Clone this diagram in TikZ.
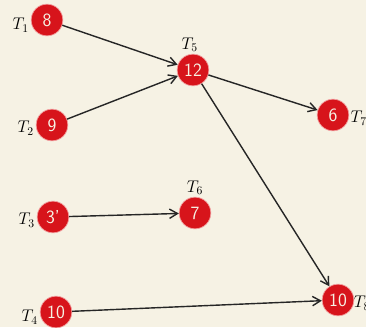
\documentclass[tikz,border=0pt]{standalone}
\usepackage{amsmath}
\usepackage{tikz}
\usepackage{xcolor}
\usetikzlibrary{arrows.meta, positioning}

\definecolor{paper}{HTML}{F6F2E4}
\definecolor{taskred}{HTML}{D7141B}
\definecolor{rim}{HTML}{F2A0A0}

\tikzset{
  task/.style={circle, fill=taskred, draw=rim, line width=0.6pt, minimum size=0.95cm, inner sep=0pt,
    text=paper, font=\sffamily\fontsize{16}{18}\selectfont},
  tname/.style={inner sep=1pt, font=\Large},
  dep/.style={-{Straight Barb[length=2.4mm, width=2.8mm, line width=1.2pt]}, line width=1.2pt, black!85}
}

\begin{document}
\begin{tikzpicture}[x=0.03cm, y=-0.03cm]
\fill[paper] (0,0) rectangle (366,327);
\useasboundingbox (0,0) rectangle (366,327);
\clip (0,0) rectangle (366,327);

\node[task] (t1) at (47,20) {8};
\node[task] (t2) at (52,125) {9};
\node[task] (t3) at (53,217) {3'};
\node[task] (t4) at (56,312) {10};
\node[task] (t5) at (193,70) {12};
\node[task] (t6) at (195,213) {7};
\node[task] (t7) at (333,115) {6};
\node[task] (t8) at (338,300) {10};

\node[tname, left=0.02cm of t1, yshift=-0.15cm] {$T_1$};
\node[tname, left=0.02cm of t2, yshift=-0.1cm] {$T_2$};
\node[tname, left=0.02cm of t3, yshift=-0.1cm] {$T_3$};
\node[tname, left=0.02cm of t4, yshift=-0.15cm] {$T_4$};
\node[tname, above=0.02cm of t5, xshift=-0.1cm] {$T_5$};
\node[tname, above=0.02cm of t6] {$T_6$};
\node[tname, right=0cm of t7, yshift=-0.1cm] {$T_7$};
\node[tname, right=-0.05cm of t8, yshift=-0.1cm] {$T_8$};

\draw[dep] (t1) -- (t5);
\draw[dep] (t2) -- (t5);
\draw[dep] (t5) -- (t7);
\draw[dep] (t5) -- (t8);
\draw[dep] (t3) -- (t6);
\draw[dep] (t4) -- (t8);
\end{tikzpicture}
\end{document}
